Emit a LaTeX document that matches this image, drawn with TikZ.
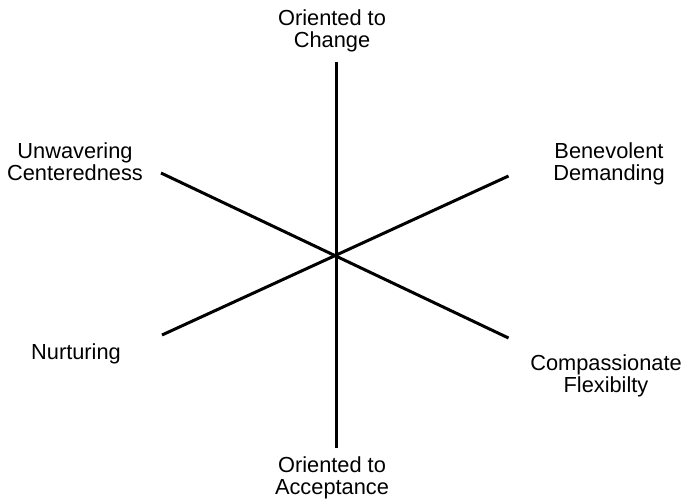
\documentclass[tikz,border=0pt]{standalone}
\usepackage{fontspec}
\setmainfont{Liberation Sans}
\begin{document}
\begin{tikzpicture}[x=1pt,y=-1pt,
  axis/.style={line width=3pt,black},
  lbl/.style={align=center,inner sep=0pt,font=\fontsize{21.8}{22}\selectfont}]
\useasboundingbox (0,0) rectangle (683,501);
\coordinate (c) at (336.5,256);
\coordinate (t) at (336.5,62);
\coordinate (b) at (336.5,448);
\coordinate (ul) at (161,173);
\coordinate (ur) at (508.5,176);
\coordinate (ll) at (162,335);
\coordinate (lr) at (508.5,338);
\draw[axis] (t) -- (b);
\draw[axis] (ul) -- (lr);
\draw[axis] (ll) -- (ur);
\node[lbl] (change) at (332,31) {Oriented to\\Change};
\node[lbl] (accept) at (332,478) {Oriented to\\Acceptance};
\node[lbl] (unw) at (75,162) {Unwavering\\Centeredness};
\node[lbl] (ben) at (609,164) {Benevolent\\Demanding};
\node[lbl] (nur) at (76,354) {Nurturing};
\node[lbl] (comp) at (606,376) {Compassionate\\Flexibilty};
\end{tikzpicture}
\end{document}
